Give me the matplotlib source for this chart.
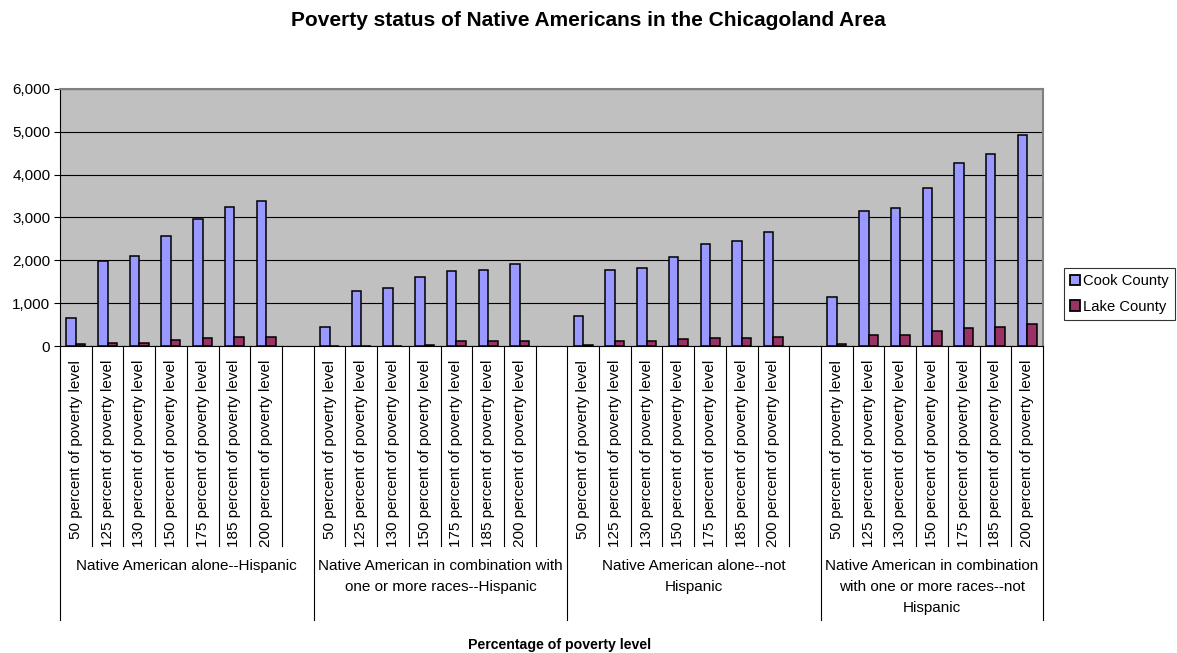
import matplotlib
matplotlib.use("Agg")
import matplotlib.pyplot as plt
import matplotlib.transforms as mtransforms
from matplotlib.lines import Line2D
from matplotlib.patches import Patch
import numpy as np

plt.rcParams['font.family'] = ['Liberation Sans', 'DejaVu Sans']

# ---- data ----
levels = ["50 percent of poverty level", "125 percent of poverty level",
          "130 percent of poverty level", "150 percent of poverty level",
          "175 percent of poverty level", "185 percent of poverty level",
          "200 percent of poverty level"]
groups = ["Native American alone--Hispanic",
          "Native American in combination with\none or more races--Hispanic",
          "Native American alone--not\nHispanic",
          "Native American in combination\nwith one or more races--not\nHispanic"]
series_names = ["Cook County", "Lake County"]

cook_alone_hisp = [650, 1980, 2090, 2570, 2975, 3250, 3390]
lake_alone_hisp = [50, 80, 80, 140, 195, 210, 210]
cook_comb_hisp = [440, 1295, 1345, 1610, 1760, 1785, 1910]
lake_comb_hisp = [5, 10, 10, 30, 125, 125, 125]
cook_alone_nonhisp = [700, 1775, 1830, 2080, 2370, 2440, 2650]
lake_alone_nonhisp = [15, 115, 115, 155, 195, 195, 220]
cook_comb_nonhisp = [1145, 3155, 3215, 3685, 4270, 4485, 4920]
lake_comb_nonhisp = [45, 250, 250, 360, 420, 445, 505]

cook = [cook_alone_hisp, cook_comb_hisp, cook_alone_nonhisp, cook_comb_nonhisp]
lake = [lake_alone_hisp, lake_comb_hisp, lake_alone_nonhisp, lake_comb_nonhisp]

COOK_COLOR = "#9999FF"
LAKE_COLOR = "#993366"
FS = 11

W, H = 1177, 653
fig = plt.figure(figsize=(W / 100, H / 100), dpi=100)

def fy(py):
    return 1 - py / H

def fx(px):
    return px / W

left, right, top, bottom = 60, 1043, 89, 346
ax = fig.add_axes([fx(left), fy(bottom), fx(right - left), (bottom - top) / H])
ax.set_facecolor("#C0C0C0")

n_lv = len(levels)
slots_per_group = n_lv + 1
n_slots = slots_per_group * len(groups) - 1
bw = 0.3

for g in range(len(groups)):
    x = g * slots_per_group + np.arange(n_lv) + 0.5
    ax.bar(x - bw / 2, cook[g], width=bw, color=COOK_COLOR, edgecolor="black",
           linewidth=1.1, zorder=3)
    ax.bar(x + bw / 2, lake[g], width=bw, color=LAKE_COLOR, edgecolor="black",
           linewidth=1.1, zorder=3)

ax.set_xlim(0, n_slots)
ax.set_ylim(0, 6000)
ax.set_yticks(np.arange(0, 6001, 1000))
ax.set_yticklabels([f"{v:,}" for v in range(0, 6001, 1000)], fontsize=FS)
ax.yaxis.grid(True, color="black", linewidth=0.8, zorder=1)
ax.set_axisbelow(True)
ax.set_xticks([])
ax.tick_params(axis="y", direction="out", length=4, width=0.8, pad=3, color="black")

for side in ("top", "right"):
    ax.spines[side].set_color("#808080")
    ax.spines[side].set_linewidth(1.5)
ax.spines["left"].set_color("black")
ax.spines["bottom"].set_color("black")
ax.spines["left"].set_linewidth(0.8)
ax.spines["bottom"].set_linewidth(0.8)

# category axis: separators and two-level labels below the plot
trans = mtransforms.blended_transform_factory(ax.transData, fig.transFigure)
group_edges = [g * slots_per_group for g in range(len(groups))] + [n_slots]
for b in range(n_slots + 1):
    y_end = 620 if b in group_edges else 546
    fig.add_artist(Line2D([b, b], [fy(bottom), fy(y_end)], transform=trans,
                          color="black", linewidth=0.8, clip_on=False))

for g in range(len(groups)):
    for j, lv in enumerate(levels):
        xc = g * slots_per_group + j + 0.5
        fig.text(xc, fy(360), lv, transform=trans, rotation=90, ha="center",
                 va="top", fontsize=FS)
    xc = (group_edges[g] + group_edges[g + 1]) / 2
    fig.text(xc, fy(559), groups[g], transform=trans, ha="center", va="top",
             fontsize=FS, linespacing=1.62, multialignment="center")

fig.text(0.5, fy(20), "Poverty status of Native Americans in the Chicagoland Area",
         ha="center", va="center", fontsize=15, fontweight="bold")
fig.text(fx(560), fy(645), "Percentage of poverty level", ha="center",
         va="center", fontsize=10.2, fontweight="bold")

handles = [Patch(facecolor=COOK_COLOR, edgecolor="black", linewidth=1.3),
           Patch(facecolor=LAKE_COLOR, edgecolor="black", linewidth=1.3)]
leg = fig.legend(handles, series_names, loc="center left",
                 bbox_to_anchor=(fx(1064), fy(294)),
                 fontsize=10.6, frameon=True, fancybox=False,
                 handlelength=0.7, handleheight=0.7, handletextpad=0.15,
                 borderpad=0.42, labelspacing=0.78, borderaxespad=0)
leg.get_frame().set_edgecolor("black")
leg.get_frame().set_linewidth(0.8)

fig.savefig("out.png", dpi=100)
